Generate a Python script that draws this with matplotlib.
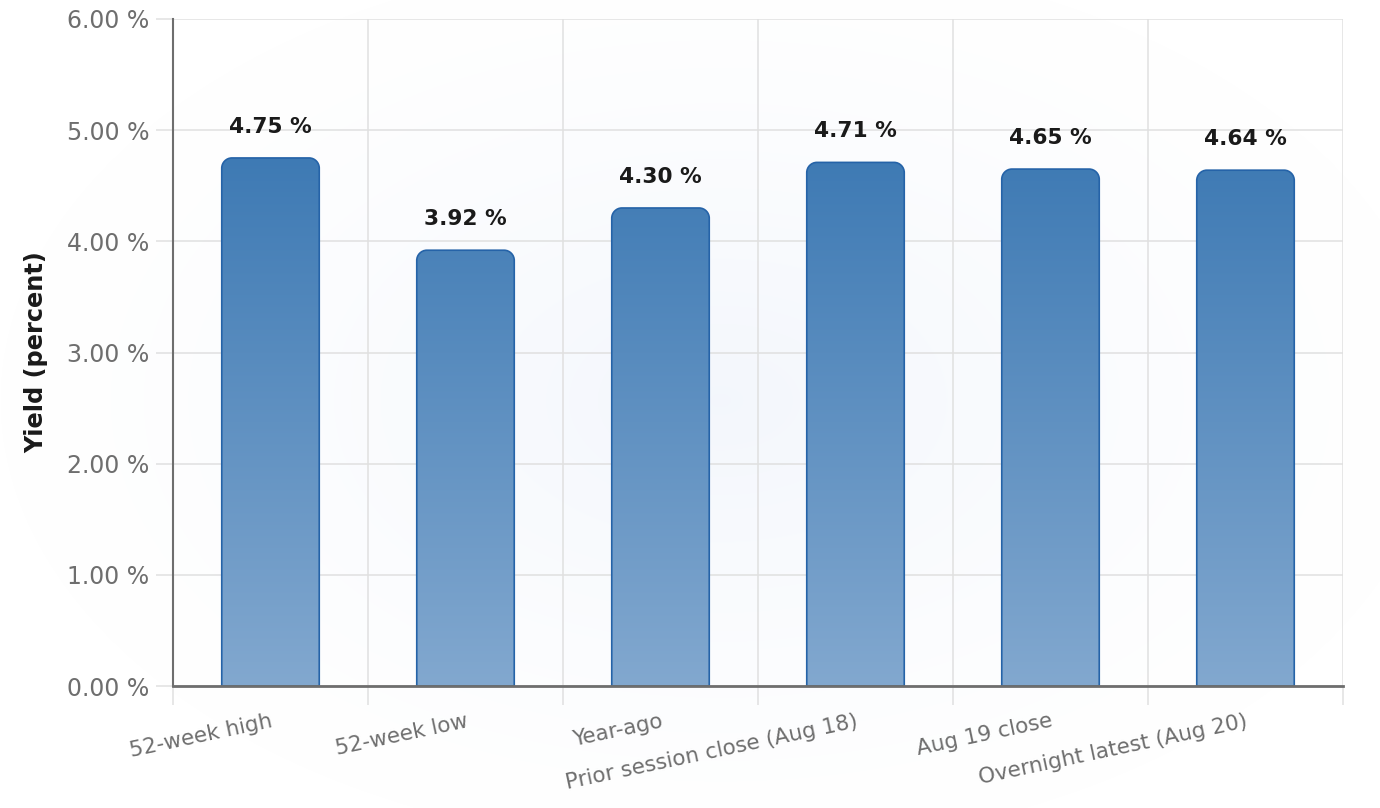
import numpy as np
import matplotlib
matplotlib.use("Agg")
import matplotlib.pyplot as plt
from matplotlib.path import Path
from matplotlib.patches import PathPatch
from matplotlib.colors import LinearSegmentedColormap
from matplotlib.ticker import FuncFormatter, FixedLocator

# Data
categories = ['52-week high', '52-week low', 'Year-ago',
              'Prior session close (Aug 18)', 'Aug 19 close',
              'Overnight latest (Aug 20)']
yields = [4.75, 3.92, 4.30, 4.71, 4.65, 4.64]
y_ticks = [0, 1, 2, 3, 4, 5, 6]

plt.rcParams['font.family'] = ['DejaVu Sans']

fig = plt.figure(figsize=(13.8, 8.08), dpi=100)

# faint radial background
bg = fig.add_axes([0, 0, 1, 1], zorder=-10)
yy, xx = np.mgrid[0:808, 0:1380]
r = np.sqrt(((xx - 720) / 720.0) ** 2 + ((yy - 400) / 450.0) ** 2)
shade = np.clip(1 - r, 0, 1) ** 1.3
img = np.ones((808, 1380, 3))
img[..., 0] -= 0.045 * shade
img[..., 1] -= 0.032 * shade
img[..., 2] -= 0.01 * shade
bg.imshow(img, aspect='auto', extent=[0, 1, 0, 1])
bg.axis('off')

ax = fig.add_axes([173 / 1380, 1 - 686 / 808, 1170 / 1380, 667 / 808])
ax.patch.set_alpha(0)

n = len(categories)

grad_cmap = LinearSegmentedColormap.from_list('bars', ['#82a8cf', '#3e7ab4'])
vmax = max(yields)
grad = np.linspace(0, 1, 256).reshape(-1, 1)

bar_w = 0.5
rx, ry = 0.052, 0.092  # corner radius in data units (~10 px)
k = 0.5523
for i, v in enumerate(yields):
    x0, x1 = i - bar_w / 2, i + bar_w / 2
    verts = [(x0, 0), (x0, v - ry),
             (x0, v - ry + k * ry), (x0 + rx - k * rx, v), (x0 + rx, v),
             (x1 - rx, v),
             (x1 - rx + k * rx, v), (x1, v - ry + k * ry), (x1, v - ry),
             (x1, 0), (x0, 0)]
    codes = [Path.MOVETO, Path.LINETO,
             Path.CURVE4, Path.CURVE4, Path.CURVE4,
             Path.LINETO,
             Path.CURVE4, Path.CURVE4, Path.CURVE4,
             Path.LINETO, Path.CLOSEPOLY]
    path = Path(verts, codes)
    im = ax.imshow(grad, cmap=grad_cmap, origin='lower', aspect='auto',
                   extent=[x0, x1, 0, vmax], vmin=0, vmax=1, zorder=2)
    patch = PathPatch(path, facecolor='none', edgecolor='#2563a8', lw=1.2, zorder=3)
    ax.add_patch(patch)
    im.set_clip_path(patch)
    ax.annotate(f'{v:.2f} %', (i, v), xytext=(0, 22.5), textcoords='offset points',
                ha='center', va='center', fontsize=15.6, fontweight='bold',
                color='#1a1a1a', zorder=4)

ax.set_xlim(-0.5, n - 0.5)
ax.set_ylim(0, 6)

# grid
ax.set_yticks(y_ticks)
ax.yaxis.set_major_formatter(FuncFormatter(lambda v, p: f'{v:.2f} %'))
ax.xaxis.set_major_locator(FixedLocator(range(n)))
ax.xaxis.set_minor_locator(FixedLocator(np.arange(-0.5, n, 1.0)))
ax.set_xticklabels(categories, rotation=12, ha='right', rotation_mode='anchor')
ax.grid(True, axis='y', which='major', color='#e0e0e0', lw=1.1, zorder=0)
ax.grid(True, axis='x', which='minor', color='#e0e0e0', lw=1.1, zorder=0)
ax.set_axisbelow(True)

ax.tick_params(axis='x', which='major', length=0, pad=18, labelsize=15.5, labelcolor='#6e6e6e')
ax.tick_params(axis='x', which='minor', length=14, width=1.1, color='#e0e0e0')
ax.tick_params(axis='y', length=12, width=1.1, color='#e0e0e0', pad=5,
               labelsize=17, labelcolor='#6e6e6e')

for s in ['top', 'right']:
    ax.spines[s].set_visible(False)
ax.spines['left'].set_color('#6e6e6e')
ax.spines['left'].set_linewidth(1.5)
ax.spines['bottom'].set_color('#6e6e6e')
ax.spines['bottom'].set_linewidth(2)
ax.spines['left'].set_zorder(5)
ax.spines['bottom'].set_zorder(5)

ax.set_ylabel('Yield (percent)', fontsize=17.3, fontweight='bold', color='#1a1a1a')
ax.yaxis.set_label_coords(-0.107, 0.5)

fig.savefig('out.png', dpi=100)
